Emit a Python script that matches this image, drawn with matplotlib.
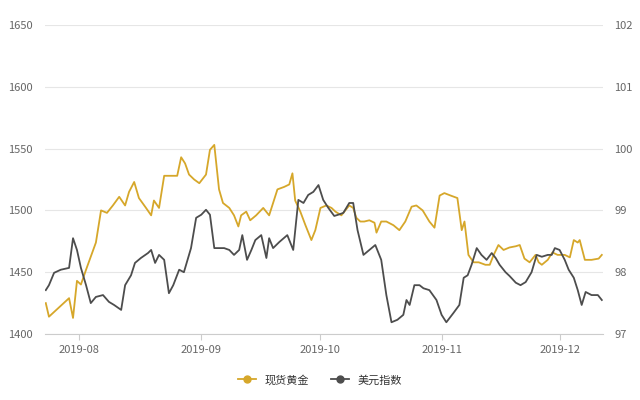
import matplotlib
matplotlib.use("Agg")
import matplotlib.pyplot as plt
import matplotlib.dates as mdates
import datetime as dt
from matplotlib.lines import Line2D

plt.rcParams['font.family'] = ['Noto Sans CJK SC', 'DejaVu Sans']

base = dt.datetime(2019, 8, 1)
gold_days = [-8.4,-7.6,-2.5,-1.5,-0.5,0.5,1.8,4.3,5.6,7.1,8.6,10.2,11.7,12.7,14,15.2,17,18.3,19,20.3,21.6,23.4,24.9,25.9,26.9,27.9,29.2,30.5,32.2,33.2,34.3,35.5,36.5,38.1,39.3,40.4,41.1,42.4,43.4,44.9,46.7,48.2,49,50.3,52,53.3,54.1,54.8,56.1,57.4,58.9,59.9,61.2,62.7,64,65,66.5,68.5,69.5,70.3,71.3,72.3,73.6,74.9,75.4,76.6,77.9,79.7,81.2,82.7,84.3,85.5,87.1,88.8,90.1,91.4,92.6,94.2,95.9,97,97.7,98.7,100,101.3,103,104.1,105.1,106.3,107.6,109.1,110.7,111.7,112.9,114.2,115.7,116.5,117.3,118.8,120,121.3,123.1,124.4,125.4,126.4,126.9,128.2,129.9,131.7,132.5]
gold_vals = [1425,1414,1429,1413,1443,1440,1452,1474,1500,1498,1504,1511,1504,1515,1523,1510,1502,1496,1508,1502,1528,1528,1528,1543,1538,1529,1525,1522,1529,1549,1553,1517,1506,1502,1496,1487,1496,1499,1492,1496,1502,1496,1504,1517,1519,1521,1530,1508,1499,1488,1476,1484,1502,1504,1502,1499,1496,1504,1502,1494,1491,1491,1492,1490,1482,1491,1491,1488,1484,1491,1503,1504,1500,1491,1486,1512,1514,1512,1510,1484,1491,1464,1458,1458,1456,1456,1464,1472,1468,1470,1471,1472,1461,1458,1464,1458,1456,1460,1466,1464,1464,1462,1476,1474,1476,1460,1460,1461,1464]
usd_days = [-8.4,-7.6,-6.3,-4.6,-2.5,-1.5,-0.5,0.5,1.8,3,4.3,6.1,7.6,8.9,10.7,11.7,13.2,14.2,15.7,17.5,18.3,19.3,20.3,21.6,22.8,23.9,25.4,26.6,28.4,29.7,31,32.2,33.2,34.3,35.5,36.8,38.1,39.3,40.6,41.4,42.6,43.7,44.7,46.2,47.5,48.2,49.2,50.8,52.8,54.3,55.6,56.9,58.1,59.4,60.7,61.9,63.2,64.7,65.7,67,68.5,69.5,70.6,72.1,73.6,75.1,76.6,77.9,79.2,80.7,82.2,83,83.8,85,86.3,87.3,88.8,90.6,91.9,93.1,94.9,96.4,97.5,98.5,99.5,100.8,102,103.3,104.6,105.6,106.6,108.1,109.1,110.7,111.9,113.2,114.7,116,117.3,118.8,119.8,120.6,121.8,123.1,124.1,125.4,126.4,127.4,128.4,129.9,131.5,132.5]
usd_vals = [97.71,97.79,97.99,98.04,98.07,98.55,98.36,98.07,97.79,97.50,97.60,97.63,97.52,97.47,97.39,97.79,97.95,98.15,98.23,98.31,98.36,98.15,98.28,98.20,97.66,97.79,98.04,98.00,98.39,98.88,98.93,99.01,98.93,98.39,98.39,98.39,98.36,98.28,98.36,98.60,98.20,98.36,98.52,98.60,98.23,98.55,98.39,98.49,98.60,98.36,99.17,99.12,99.25,99.30,99.41,99.17,99.04,98.91,98.93,98.96,99.12,99.12,98.68,98.28,98.36,98.44,98.20,97.63,97.19,97.23,97.31,97.55,97.47,97.79,97.79,97.74,97.71,97.55,97.31,97.19,97.34,97.47,97.91,97.95,98.12,98.39,98.28,98.20,98.31,98.23,98.12,98.00,97.94,97.83,97.79,97.84,98.00,98.28,98.25,98.28,98.28,98.39,98.36,98.20,98.04,97.91,97.71,97.47,97.68,97.63,97.63,97.55]
left_ticks = [1400, 1450, 1500, 1550, 1600, 1650]
right_ticks = [97, 98, 99, 100, 101, 102]

gd = [base + dt.timedelta(days=d) for d in gold_days]
ud = [base + dt.timedelta(days=d) for d in usd_days]

gold_c = '#d6a72a'
usd_c = '#4d4d4d'
txt_c = '#666666'

fig = plt.figure(figsize=(6.4, 4.0), dpi=100)
ax = fig.add_axes([45/640, 1-334/400, 558/640, 309/400])
ax2 = ax.twinx()
ax.plot(gd, gold_vals, color=gold_c, lw=1.3)
ax2.plot(ud, usd_vals, color=usd_c, lw=1.3)
ax.set_ylim(1400, 1650); ax.set_yticks(left_ticks)
ax2.set_ylim(97, 102); ax2.set_yticks(right_ticks)
ax.set_xlim(base + dt.timedelta(days=-8.6), base + dt.timedelta(days=132.8))
ax.xaxis.set_major_locator(mdates.MonthLocator())
ax.xaxis.set_major_formatter(mdates.DateFormatter('%Y-%m'))
ax.grid(axis='y', color='#e6e6e6', lw=0.8)
ax.set_axisbelow(True)
for a in (ax, ax2):
    for s in a.spines.values():
        s.set_visible(False)
    a.tick_params(colors=txt_c, labelsize=8, length=0)
ax.spines['bottom'].set_visible(True)
ax.spines['bottom'].set_color('#cccccc')
ax.tick_params(axis='x', length=4, color='#cccccc', pad=4)
ax.tick_params(axis='y', pad=9)
ax2.tick_params(axis='y', pad=8)

h1 = Line2D([], [], color=gold_c, marker='o', ms=5, lw=1.3)
h2 = Line2D([], [], color=usd_c, marker='o', ms=5, lw=1.3)
fig.legend([h1, h2], ['现货黄金', '美元指数'], loc='center', bbox_to_anchor=(0.5, 1-380/400),
           ncol=2, frameon=False, fontsize=8, labelcolor='#333333', handlelength=1.6, columnspacing=2)
fig.savefig('out.png', dpi=100)
